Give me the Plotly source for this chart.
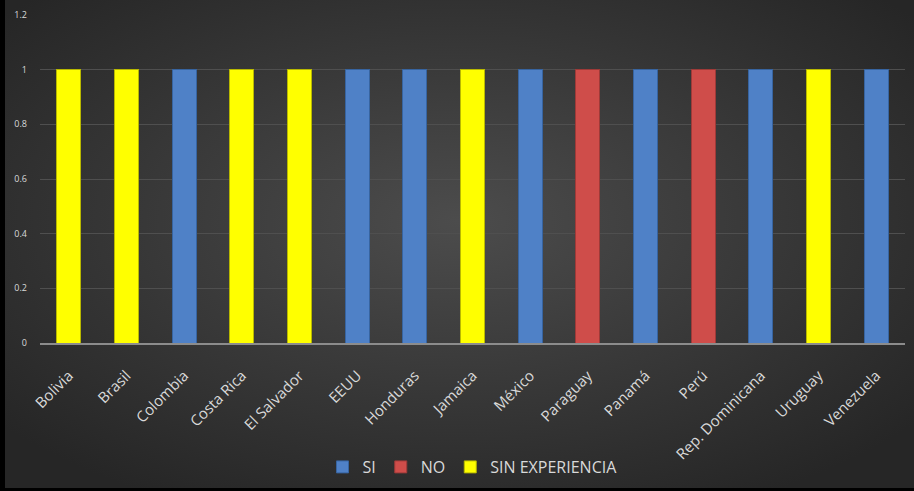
import base64
import plotly.graph_objects as go

categories = ["Bolivia", "Brasil", "Colombia", "Costa Rica", "El Salvador", "EEUU",
              "Honduras", "Jamaica", "México", "Paraguay", "Panamá", "Perú",
              "Rep. Dominicana", "Uruguay", "Venezuela"]
si =              [0, 0, 1, 0, 0, 1, 1, 0, 1, 0, 1, 0, 1, 0, 1]
no =              [0, 0, 0, 0, 0, 0, 0, 0, 0, 1, 0, 1, 0, 0, 0]
sin_experiencia = [1, 1, 0, 1, 1, 0, 0, 1, 0, 0, 0, 0, 0, 1, 0]
y_ticks = [0, 0.2, 0.4, 0.6, 0.8, 1, 1.2]

W, H = 914, 491
L, R, T, B = 40, 9, 15, 148
pw, ph = W - L - R, H - T - B

svg = f"""<svg xmlns='http://www.w3.org/2000/svg' width='{W}' height='{H}'>
<defs><radialGradient id='g' cx='50%' cy='45%' r='65%'>
<stop offset='0' stop-color='#4c4c4c'/><stop offset='1' stop-color='#262626'/>
</radialGradient></defs>
<rect width='{W}' height='{H}' fill='url(#g)'/>
<rect x='0' y='0' width='5' height='{H}' fill='#000'/>
<rect x='0' y='{H-3}' width='{W}' height='3' fill='#000'/>
</svg>"""
src = "data:image/svg+xml;base64," + base64.b64encode(svg.encode()).decode()

def nz(vals):
    return [v if v else None for v in vals]

fig = go.Figure()
fig.add_trace(go.Bar(x=categories, y=nz(si), name="SI",
                     marker=dict(color="#4F81C7", line=dict(color="#3764a0", width=1))))
fig.add_trace(go.Bar(x=categories, y=nz(no), name="NO",
                     marker=dict(color="#CF4D4A", line=dict(color="#9e3a38", width=1))))
fig.add_trace(go.Bar(x=categories, y=nz(sin_experiencia), name="SIN EXPERIENCIA",
                     marker=dict(color="#FFFF00", line=dict(color="#b8b800", width=1))))

fig.update_layout(
    width=W, height=H,
    margin=dict(l=L, r=R, t=T, b=B, autoexpand=False),
    barmode="stack", bargap=0.58,
    paper_bgcolor="#333333", plot_bgcolor="rgba(0,0,0,0)",
    font=dict(family="Open Sans, Liberation Sans, sans-serif", color="#d9d9d9"),
    images=[dict(source=src, xref="paper", yref="paper",
                 x=-L / pw, y=1 + T / ph, sizex=W / pw, sizey=H / ph,
                 xanchor="left", yanchor="top", sizing="stretch", layer="below")],
    legend=dict(orientation="h", x=0.5, xanchor="center", y=-0.378, yanchor="middle",
                font=dict(size=16, color="#d9d9d9"), bgcolor="rgba(0,0,0,0)",
                traceorder="normal", itemwidth=30),
    showlegend=True,
)
fig.update_xaxes(tickangle=-45, tickfont=dict(size=15, color="#d9d9d9"),
                 showgrid=False, showline=True, linecolor="#8c8c8c", linewidth=2,
                 ticks="", ticklabelstandoff=16)
fig.update_yaxes(range=[0, 1.2], tickvals=y_ticks, ticktext=["0", "0.2", "0.4", "0.6", "0.8", "1", "1.2"],
                 tickfont=dict(size=9, color="#d9d9d9"), showgrid=True,
                 gridcolor="#4f4f4f", gridwidth=1, zeroline=False, ticks="",
                 ticklabelstandoff=12)

fig.write_html("out.html", config={"displayModeBar": False},
               post_script="document.body.style.margin='0px';document.body.style.overflow='hidden';")
